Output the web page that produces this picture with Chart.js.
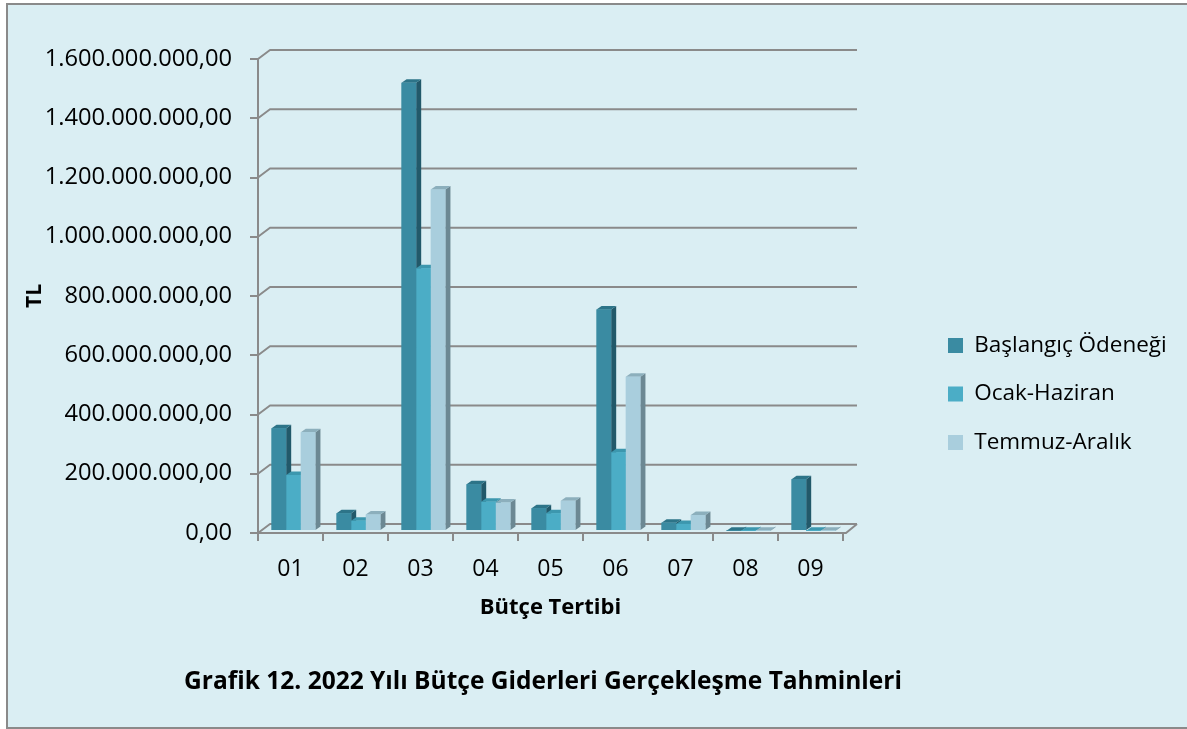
<!DOCTYPE html>
<html>
<head>
<meta charset="utf-8">
<script src="https://cdn.jsdelivr.net/npm/chart.js@4.4.1/dist/chart.umd.min.js"></script>
<style>
  html, body { margin: 0; padding: 0; background: #ffffff; overflow: hidden; }
  #frame { position: absolute; left: 6px; top: 3px; width: 1200px; height: 726px; box-sizing: border-box;
           border: 2px solid #8a8a8a; background: #DAEEF3; }
  #wrap { position: absolute; left: 0; top: 0; width: 1187px; height: 729px; }
</style>
</head>
<body>
<div id="frame"></div>
<div id="wrap"><canvas id="c" width="1187" height="729"></canvas></div>
<script>
// ---- data ----
const categories = ['01', '02', '03', '04', '05', '06', '07', '08', '09'];
const seriesNames = ['Başlangıç Ödeneği', 'Ocak-Haziran', 'Temmuz-Aralık'];
const baslangic = [347000000, 60000000, 1513000000, 158000000, 77000000, 748000000, 28000000, 1000000, 175000000];
const ocakHaziran = [189000000, 35000000, 887000000, 99000000, 60000000, 266000000, 24000000, 500000, 500000];
const temmuzAralik = [333000000, 56000000, 1153000000, 96000000, 102000000, 521000000, 54000000, 500000, 500000];
const yTicks = [0, 200000000, 400000000, 600000000, 800000000, 1000000000, 1200000000, 1400000000, 1600000000];
const chartTitle = 'Grafik 12. 2022 Yılı Bütçe Giderleri Gerçekleşme Tahminleri';
const xTitle = 'Bütçe Tertibi';
const yTitle = 'TL';

// ---- styles ----
const FONT = "'Open Sans', 'Noto Sans', sans-serif";
const AXIS = '#8a8a8a';
const faces = [
  { front: '#3A8BA2', side: '#22596A', top: '#2D7488' },
  { front: '#4BADC6', side: '#2F8198', top: '#3C97AE' },
  { front: '#A9CEDD', side: '#6C8893', top: '#8CAFBC' }
];
const WALL = { dx: 12, dy: -9 };
const SHIFT = { dx: 3, dy: -2 };
const BDEPTH = { dx: 5, dy: -3.5 };
const TITLE_SPAN = { left: 8, right: 1078 };

function fmtTR(v) {
  const s = Math.round(v).toString().replace(/\B(?=(\d{3})+(?!\d))/g, '.');
  return s + ',00';
}

const threeD = {
  id: 'threeD',
  afterLayout(chart) {
    const t = chart.titleBlock;
    if (t) {
      t.left = TITLE_SPAN.left;
      t.right = TITLE_SPAN.right;
      t.width = TITLE_SPAN.right - TITLE_SPAN.left;
    }
  },
  beforeDatasetsDraw(chart) {
    const { ctx, chartArea: a, scales } = chart;
    const y = scales.y;
    ctx.save();
    ctx.strokeStyle = AXIS;
    ctx.lineWidth = 2;
    ctx.lineJoin = 'round';
    yTicks.forEach(v => {
      const py = y.getPixelForValue(v);
      ctx.beginPath();
      ctx.moveTo(a.left, py);
      ctx.lineTo(a.left + WALL.dx, py + WALL.dy);
      ctx.lineTo(a.right + WALL.dx + 2, py + WALL.dy);
      ctx.stroke();
    });
    ctx.beginPath();
    ctx.moveTo(a.right, a.bottom);
    ctx.lineTo(a.right + 3, a.bottom);
    ctx.lineTo(a.right + WALL.dx + 2, a.bottom + WALL.dy);
    ctx.stroke();
    ctx.restore();
    ctx.save();
    ctx.translate(SHIFT.dx, SHIFT.dy);
  },
  afterDatasetsDraw(chart) {
    const ctx = chart.ctx;
    const n = chart.data.labels.length;
    for (let j = 0; j < n; j++) {
      for (let i = 0; i < chart.data.datasets.length; i++) {
        const el = chart.getDatasetMeta(i).data[j];
        if (!el) continue;
        const { x, y, base, width } = el.getProps(['x', 'y', 'base', 'width'], true);
        const l = x - width / 2, r = x + width / 2;
        const c = faces[i];
        ctx.fillStyle = c.side;
        ctx.beginPath();
        ctx.moveTo(r, y); ctx.lineTo(r + BDEPTH.dx, y + BDEPTH.dy);
        ctx.lineTo(r + BDEPTH.dx, base + BDEPTH.dy); ctx.lineTo(r, base);
        ctx.closePath(); ctx.fill();
        ctx.fillStyle = c.top;
        ctx.beginPath();
        ctx.moveTo(l, y); ctx.lineTo(l + BDEPTH.dx, y + BDEPTH.dy);
        ctx.lineTo(r + BDEPTH.dx, y + BDEPTH.dy); ctx.lineTo(r, y);
        ctx.closePath(); ctx.fill();
        ctx.fillStyle = c.front;
        ctx.fillRect(l, y, width, base - y);
      }
    }
    ctx.restore();
  }
};

const seriesData = [baslangic, ocakHaziran, temmuzAralik];

new Chart(document.getElementById('c'), {
  type: 'bar',
  data: {
    labels: categories,
    datasets: seriesNames.map((name, i) => ({
      label: name,
      data: seriesData[i],
      backgroundColor: faces[i].front,
      borderWidth: 0,
      categoryPercentage: 0.675,
      barPercentage: 1.0
    }))
  },
  options: {
    responsive: false,
    animation: false,
    events: [],
    layout: { padding: { left: 8, top: 59, right: 15, bottom: 0 } },
    plugins: {
      tooltip: { enabled: false },
      legend: {
        position: 'right',
        maxWidth: 250,
        labels: {
          boxWidth: 15, boxHeight: 15, padding: 26,
          color: '#000', font: { family: FONT, size: 22.5 }
        }
      },
      title: {
        display: true,
        text: chartTitle,
        position: 'bottom',
        fullSize: false,
        color: '#000',
        font: { family: FONT, size: 24.5, weight: 'bold', lineHeight: 1.2 },
        padding: { top: 39.3, bottom: 32.3 }
      }
    },
    scales: {
      x: {
        offset: true,
        grid: { display: true, drawOnChartArea: false, drawTicks: true, tickLength: 8, color: AXIS, lineWidth: 2, offset: true },
        border: { display: true, color: AXIS, width: 2 },
        ticks: { color: '#000', font: { family: FONT, size: 23 }, padding: 14.5 },
        title: { display: true, text: xTitle, color: '#000', font: { family: FONT, size: 22, weight: 'bold', lineHeight: 1.2 }, padding: { top: 0, bottom: 6.8 } },
        afterFit(s) { s.height = 95; }
      },
      y: {
        min: 0, max: 1600000000,
        afterBuildTicks(s) { s.ticks = yTicks.map(v => ({ value: v })); },
        grid: { display: true, drawOnChartArea: false, drawTicks: true, tickLength: 8, color: AXIS, lineWidth: 2 },
        border: { display: true, color: AXIS, width: 2 },
        ticks: { color: '#000', font: { family: FONT, size: 23.7 }, padding: 18, callback: v => fmtTR(v) },
        title: { display: true, text: yTitle, color: '#000', font: { family: FONT, size: 21, weight: 'bold', lineHeight: 1.2 }, padding: { top: 14.4, bottom: 0 } },
        afterFit(s) { s.width = 250; }
      },
      spacer: {
        type: 'linear',
        position: 'right',
        display: true,
        grid: { display: false },
        border: { display: false },
        ticks: { display: false },
        afterFit(s) { s.width = 79; }
      }
    }
  },
  plugins: [threeD]
});
</script>
</body>
</html>
